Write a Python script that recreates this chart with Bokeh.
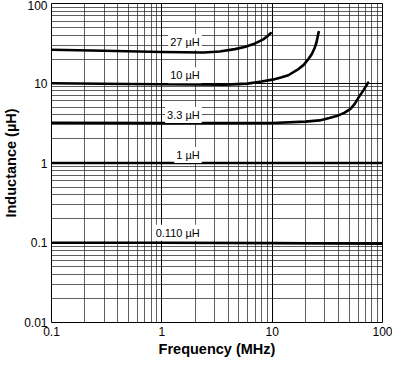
from bokeh.plotting import figure
from bokeh.models import FixedTicker, CustomJSTickFormatter, Label
from bokeh.embed import file_html
from bokeh.resources import INLINE

# ---- data ----
f_27 = [0.1, 0.3, 1.0, 2.4, 3.34, 4.6, 5.62, 6.8, 8.3, 9.0, 9.7]
L_27 = [26.3, 25.6, 24.6, 24.3, 25.0, 26.8, 28.4, 31.0, 35.5, 38.5, 42.5]

f_10 = [0.1, 0.5, 1.0, 3.8, 6.0, 8.0, 10.1, 12.0, 14.0, 17.0, 19.3, 21.0, 22.9, 24.2, 25.2, 26.4]
L_10 = [10.0, 9.8, 9.7, 9.6, 9.9, 10.5, 11.1, 11.8, 12.6, 14.8, 17.0, 19.6, 23.3, 27.5, 32.4, 43.9]

f_33 = [0.1, 1.0, 10.1, 20.0, 26.9, 33.0, 39.8, 45.0, 51.3, 56.0, 60.8, 67.4, 74.0]
L_33 = [3.2, 3.16, 3.18, 3.3, 3.42, 3.66, 3.95, 4.25, 4.77, 5.5, 6.66, 8.2, 10.2]

f_1 = [0.1, 1.0, 10.0, 100.0]
L_1 = [1.0, 1.0, 1.0, 1.0]

f_011 = [0.1, 1.0, 10.0, 100.0]
L_011 = [0.1, 0.1, 0.099, 0.097]

series_labels = ["27 µH", "10 µH", "3.3 µH", "1 µH", "0.110 µH"]
label_y = [33.0, 12.6, 4.0, 1.26, 0.133]
label_x = 2.3

x_major = [0.1, 1, 10, 100]
y_major = [0.01, 0.1, 1, 10, 100]

FONT = "Liberation Sans"

p = figure(width=392, height=359, x_axis_type="log", y_axis_type="log",
           x_range=(0.1, 100), y_range=(0.01, 100),
           output_backend="svg", toolbar_location=None,
           min_border_left=0, min_border_right=10, min_border_top=3, min_border_bottom=0)

def minors(majors):
    out = []
    for m in majors[:-1]:
        out += [m * k for k in range(2, 10)]
    return out

p.xaxis.ticker = FixedTicker(ticks=x_major, minor_ticks=minors(x_major))
p.yaxis.ticker = FixedTicker(ticks=y_major, minor_ticks=minors(y_major))
fmt = "return tick >= 1 ? tick.toFixed(0) : String(parseFloat(tick.toPrecision(3)));"
p.xaxis.formatter = CustomJSTickFormatter(code=fmt)
p.yaxis.formatter = CustomJSTickFormatter(code=fmt)

for ax in (p.xaxis[0], p.yaxis[0]):
    ax.major_tick_out = 0
    ax.major_tick_in = 0
    ax.minor_tick_out = 0
    ax.minor_tick_in = 0
    ax.axis_line_color = None
    ax.major_label_text_font = FONT
    ax.major_label_text_font_size = "12px"
    ax.major_label_text_color = "black"
    ax.axis_label_text_font = FONT
    ax.axis_label_text_font_size = "14.5px"
    ax.axis_label_text_font_style = "bold"
    ax.axis_label_text_color = "black"
    ax.major_label_standoff = 4
    ax.axis_label_standoff = 2

p.xaxis.axis_label = "Frequency (MHz)"
p.yaxis.axis_label = "Inductance (µH)"

for g in (p.xgrid[0], p.ygrid[0]):
    g.grid_line_color = "black"
    g.grid_line_width = 1
    g.grid_line_alpha = 1
    g.minor_grid_line_color = "#222222"
    g.minor_grid_line_width = 0.8
    g.minor_grid_line_alpha = 0.9

p.outline_line_color = "black"
p.outline_line_width = 1
p.background_fill_color = "white"
p.border_fill_color = "white"

for fx, ly in ((f_27, L_27), (f_10, L_10), (f_33, L_33), (f_1, L_1), (f_011, L_011)):
    p.line(fx, ly, line_color="black", line_width=2.6, line_join="round", line_cap="round")

for txt, yy in zip(series_labels, label_y):
    p.add_layout(Label(x=label_x, y=yy, text=txt, text_align="right", text_baseline="middle",
                       text_font=FONT, text_font_size="11px", text_color="black",
                       background_fill_color="white", background_fill_alpha=1.0,
                       padding=2))

open("out.html", "w").write(file_html(p, INLINE))
